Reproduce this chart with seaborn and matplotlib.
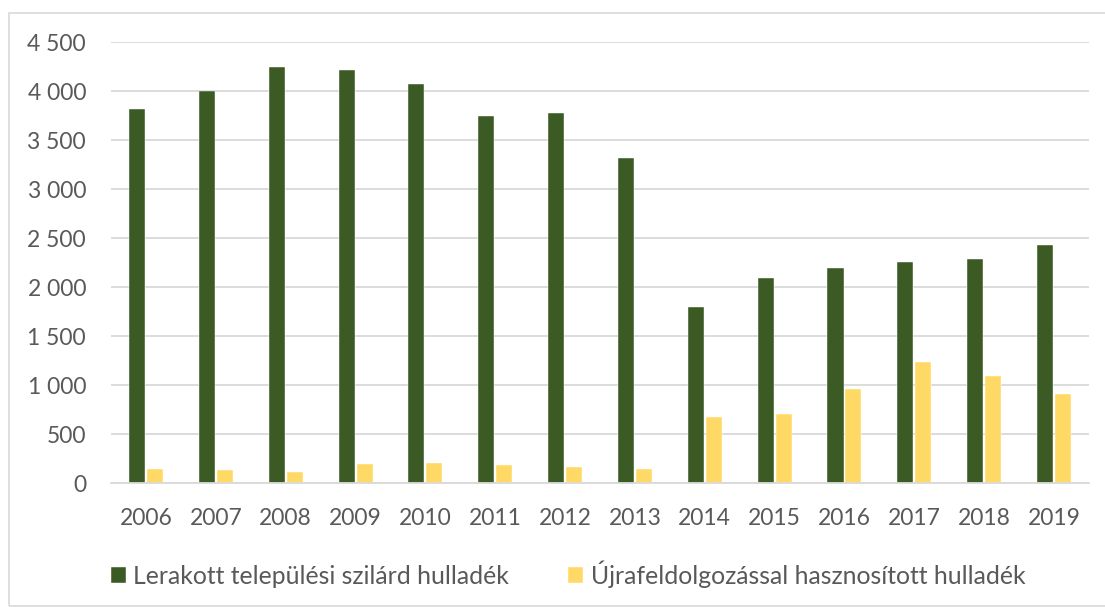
import pandas as pd
import matplotlib.pyplot as plt
import matplotlib.ticker as mticker
from matplotlib.patches import Rectangle
import seaborn as sns

years = [str(y) for y in range(2006, 2020)]
landfilled = [3816, 3997, 4241, 4214, 4068, 3748, 3772, 3316, 1803, 2092, 2194, 2262, 2289, 2429]
recycled = [143, 139, 119, 197, 204, 190, 173, 150, 677, 711, 963, 1241, 1095, 908]
series_names = ["Lerakott települési szilárd hulladék", "Újrafeldolgozással hasznosított hulladék"]
colors = ["#3C5A24", "#FFD966"]


def main():
    df = pd.DataFrame({
        "year": years * 2,
        "value": landfilled + recycled,
        "series": [series_names[0]] * len(years) + [series_names[1]] * len(years),
    })

    sns.set_theme(style="white")
    plt.rcParams['font.family'] = ['Lato', 'DejaVu Sans']
    text_color = "#595959"
    grid_color = "#D9D9D9"

    fig = plt.figure(figsize=(11.05, 6.07), dpi=100)
    ax = fig.add_axes([0.1005, 0.2035, 0.885, 0.7273])

    sns.barplot(data=df, x="year", y="value", hue="series", palette=colors,
                width=0.515, gap=0.11, edgecolor="white", linewidth=0.3,
                saturation=1, ax=ax)

    ax.set_ylim(0, 4500)
    ax.set_yticks(range(0, 4501, 500))
    ax.yaxis.set_major_formatter(mticker.FuncFormatter(lambda v, p: "{:,.0f}".format(v).replace(",", " ")))
    ax.set_axisbelow(True)
    ax.yaxis.grid(True, color=grid_color, linewidth=1.3)
    ax.set_xlabel("")
    ax.set_ylabel("")
    for side in ["top", "right", "left"]:
        ax.spines[side].set_visible(False)
    ax.spines["bottom"].set_color(grid_color)
    ax.spines["bottom"].set_linewidth(1.3)
    ax.tick_params(axis="y", length=0, pad=18, labelsize=16.5, labelcolor=text_color)
    ax.tick_params(axis="x", length=0, pad=18, labelsize=16.5, labelcolor=text_color)

    handles, labels = ax.get_legend_handles_labels()
    ax.get_legend().remove()
    fig.legend(handles, labels, loc="center", bbox_to_anchor=(0.514, 0.054), ncol=2,
               frameon=False, fontsize=17.8, labelcolor=text_color,
               handlelength=0.6, handleheight=0.6, handletextpad=0.3, columnspacing=2.4)

    fig.patches.append(Rectangle((9 / 1105, 0.002), 1.2, 1 - 13 / 607 - 0.002, transform=fig.transFigure,
                                 fill=False, edgecolor=grid_color, linewidth=1.2))

    fig.savefig("out.png", dpi=100)
    plt.close(fig)


if __name__ == "__main__":
    main()
